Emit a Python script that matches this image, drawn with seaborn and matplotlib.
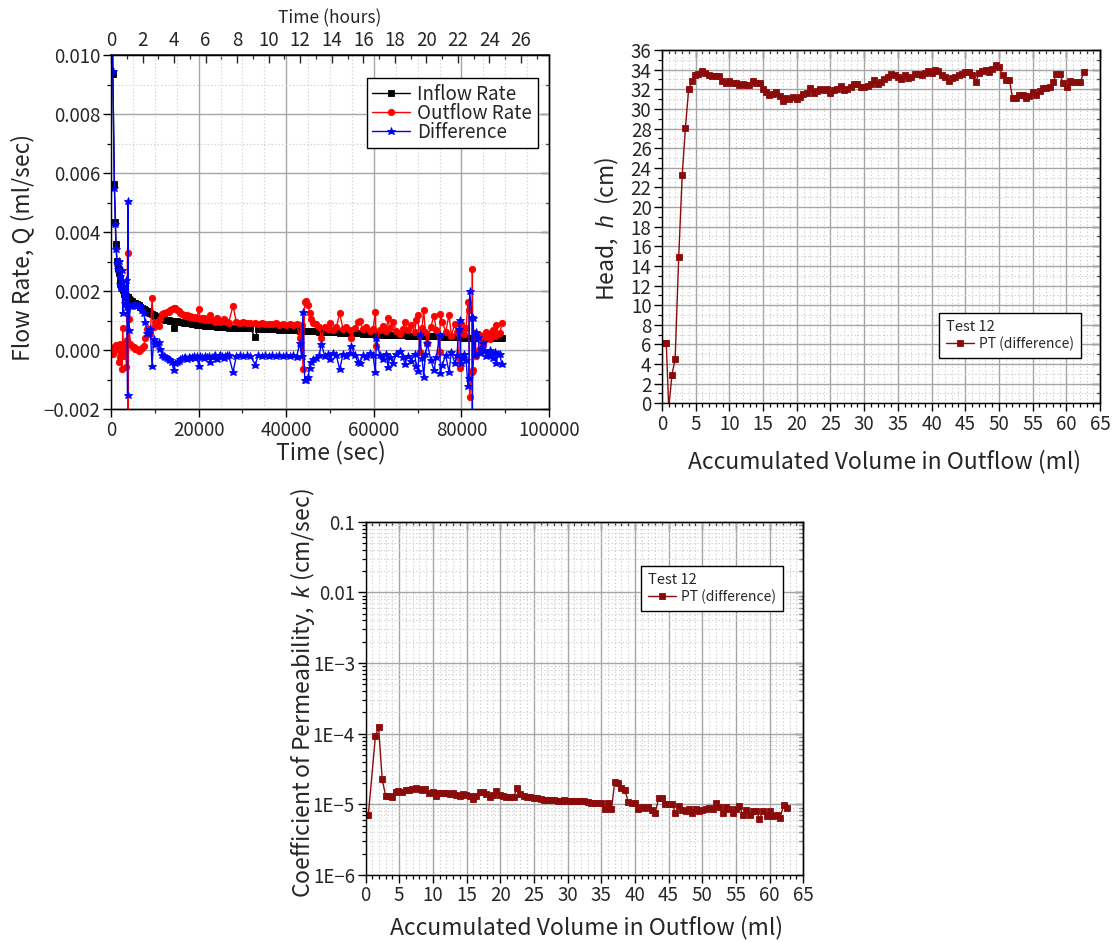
import matplotlib
matplotlib.use("Agg")
import numpy as np
import matplotlib.pyplot as plt
import matplotlib.ticker as mticker
import seaborn as sns

# ---------------- flow-rate record (time in s, rates in 1e-3 ml/sec) ----------------
TIME_S = [
    150, 420, 770, 1000, 1150, 1380, 1600, 1760, 1950, 2140,
    2330, 2520, 2670, 2900, 3050, 3280, 3500, 3660, 3780, 3830,
    4040, 4420, 4800, 5180, 5560, 5940, 6320, 6700, 7080, 7460,
    7850, 8230, 8610, 8990, 9370, 9750, 10130, 10510, 10890, 11270,
    11650, 12030, 12410, 12790, 13170, 13550, 13930, 14310, 14700, 15080,
    15460, 15840, 16220, 16600, 16980, 17360, 17740, 18120, 18500, 18880,
    19260, 19640, 20020, 20400, 20780, 21160, 21540, 21920, 22300, 22690,
    23070, 23450, 23830, 24210, 24590, 24970, 25350, 25730, 26110, 26490,
    26870, 27860, 28600, 29400, 30200, 31000, 31800, 32960, 33600, 34400,
    35200, 36000, 36800, 37600, 38400, 39200, 40000, 40800, 41600, 42400,
    43080, 43500, 43840, 44220, 44600, 44980, 45370, 45750, 46130, 46890,
    47500, 48030, 48790, 49550, 49930, 50700, 51450, 52210, 52980, 53740,
    54500, 54880, 55640, 56400, 56780, 57540, 58300, 59060, 59820, 60360,
    60590, 61350, 62110, 62870, 63250, 63630, 64390, 65150, 65910, 66670,
    67050, 67810, 68570, 69340, 69720, 70100, 70480, 71010, 71390, 71770,
    72230, 72990, 73750, 74280, 75040, 75200, 75650, 76410, 77170, 77710,
    78470, 79000, 79380, 79610, 79840, 80140, 80600, 81060, 81510, 81670,
    81890, 82430, 82500, 82650, 83040, 83420, 83800, 84180, 84560, 84940,
    85320, 85700, 86080, 86460, 86840, 87220, 87600, 87980, 88360, 88740,
    89270,
]
INFLOW = [
    14.2, 9.36, 5.63, 4.36, 3.59, 3.03, 2.80, 2.63, 2.45, 2.29,
    2.17, 2.10, 2.05, 1.95, 1.90, 1.86, 1.83, 1.81, 1.80, 1.79,
    1.75, 1.70, 1.66, 1.62, 1.59, 1.56, 1.52, 1.48, 1.45, 1.41,
    1.38, 1.33, 1.29, 1.26, 1.23, 1.20, 1.16, 1.13, 1.10, 1.08,
    1.06, 1.05, 1.04, 1.03, 1.02, 1.01, 1.00, 0.77, 0.99, 0.98,
    0.97, 0.96, 0.95, 0.94, 0.93, 0.92, 0.91, 0.91, 0.90, 0.89,
    0.88, 0.87, 0.86, 0.86, 0.85, 0.85, 0.84, 0.84, 0.83, 0.83,
    0.82, 0.81, 0.81, 0.80, 0.80, 0.79, 0.79, 0.78, 0.78, 0.78,
    0.77, 0.77, 0.76, 0.76, 0.75, 0.75, 0.74, 0.44, 0.73, 0.73,
    0.72, 0.72, 0.71, 0.71, 0.70, 0.70, 0.69, 0.69, 0.68, 0.68,
    0.67, 0.67, 0.66, 0.66, 0.66, 0.65, 0.65, 0.65, 0.64, 0.64,
    0.63, 0.63, 0.62, 0.62, 0.62, 0.61, 0.61, 0.60, 0.60, 0.59,
    0.59, 0.58, 0.58, 0.57, 0.57, 0.56, 0.56, 0.55, 0.55, 0.54,
    0.54, 0.54, 0.53, 0.53, 0.53, 0.52, 0.52, 0.52, 0.51, 0.51,
    0.51, 0.50, 0.50, 0.50, 0.49, 0.49, 0.49, 0.49, 0.48, 0.48,
    0.48, 0.48, 0.47, 0.47, 0.47, 0.47, 0.46, 0.46, 0.46, 0.45,
    0.45, 0.45, 0.44, 0.44, 0.44, 0.44, 0.43, 0.43, 0.43, 0.43,
    0.42, 0.42, 0.42, 0.42, 0.42, 0.42, 0.42, 0.42, 0.42, 0.42,
    0.42, 0.42, 0.42, 0.42, 0.43, 0.43, 0.43, 0.43, 0.43, 0.43,
    0.43,
]
OUTFLOW = [
    0.08, -0.11, 0.12, 0.09, 0.17, 0.06, 0.05, -0.40, 0.20, -0.23,
    0.05, -0.62, 0.77, -0.05, -0.20, 0.24, -0.55, 0.35, 3.30, -3.27,
    1.05, 0.20, 0.15, 0.10, 0.05, 0.03, -0.02, 0.00, 0.08, 0.15,
    0.43, 0.73, 0.71, 0.55, 1.76, 0.80, 0.95, 0.90, 0.82, 1.05,
    1.22, 1.25, 1.28, 1.30, 1.31, 1.35, 1.40, 1.45, 1.42, 1.38,
    1.33, 1.25, 1.22, 1.19, 1.16, 1.20, 1.14, 1.17, 1.12, 1.10,
    1.13, 1.08, 1.39, 1.05, 1.09, 1.10, 1.03, 1.06, 1.02, 1.21,
    1.04, 1.00, 0.97, 1.10, 1.01, 0.96, 1.00, 1.05, 0.98, 0.95,
    0.94, 1.51, 0.97, 0.93, 0.95, 0.92, 0.93, 0.93, 0.90, 0.92,
    0.89, 0.90, 0.88, 0.91, 0.87, 0.88, 0.86, 0.88, 0.85, 0.90,
    0.41, 0.86, -0.64, 1.65, 1.68, 1.55, 1.25, 1.05, 0.92, 0.90,
    0.80, 0.43, 0.80, 0.73, 0.92, 0.70, 0.78, 1.25, 0.72, 0.78,
    0.68, 0.43, 0.74, 0.97, 1.00, 0.71, 0.80, 0.65, 0.72, 1.29,
    0.13, 0.70, 0.82, 0.66, 1.08, 0.74, 0.95, 0.66, 0.55, 0.73,
    0.97, 0.68, 0.85, 0.62, 1.03, 1.20, -0.06, 0.74, 1.37, 0.62,
    0.24, 0.80, 1.15, 0.70, -0.05, 1.23, 0.95, 0.62, 1.20, 0.50,
    0.88, 0.62, -0.27, -0.59, 0.88, 0.70, 0.55, 0.75, 1.65, 1.38,
    -1.58, -0.72, 2.76, -0.67, 0.57, -0.21, -0.04, 0.52, 0.35, 0.18,
    0.45, 0.63, 0.52, 0.40, 0.60, 0.69, 0.50, 0.86, 0.55, 0.57,
    0.91,
]
DIFFERENCE = [
    14.12, 9.47, 5.51, 4.27, 3.42, 2.97, 2.75, 3.03, 2.25, 2.52,
    2.12, 2.72, 1.28, 2.00, 2.10, 1.62, 2.38, 1.46, -1.50, 5.06,
    0.70, 1.50, 1.51, 1.52, 1.54, 1.53, 1.54, 1.48, 1.37, 1.26,
    0.95, 0.60, 0.58, 0.71, -0.53, 0.40, 0.21, 0.23, 0.28, 0.03,
    -0.16, -0.20, -0.24, -0.27, -0.29, -0.34, -0.40, -0.68, -0.43, -0.40,
    -0.36, -0.29, -0.27, -0.25, -0.23, -0.28, -0.23, -0.26, -0.22, -0.21,
    -0.25, -0.21, -0.53, -0.19, -0.24, -0.25, -0.19, -0.22, -0.19, -0.38,
    -0.22, -0.19, -0.16, -0.30, -0.21, -0.17, -0.21, -0.27, -0.20, -0.17,
    -0.17, -0.74, -0.21, -0.17, -0.20, -0.17, -0.19, -0.49, -0.17, -0.19,
    -0.17, -0.18, -0.17, -0.20, -0.17, -0.18, -0.17, -0.19, -0.17, -0.22,
    0.26, -0.19, 1.30, -0.99, -1.02, -0.90, -0.60, -0.40, -0.28, -0.26,
    -0.17, 0.20, -0.18, -0.11, -0.30, -0.09, -0.17, -0.65, -0.12, -0.19,
    -0.09, 0.15, -0.16, -0.40, -0.43, -0.15, -0.24, -0.10, -0.17, -0.75,
    0.41, -0.16, -0.29, -0.13, -0.55, -0.22, -0.43, -0.14, -0.04, -0.22,
    -0.46, -0.18, -0.35, -0.12, -0.54, -0.71, 0.55, -0.25, -0.89, -0.14,
    0.24, -0.32, -0.68, -0.23, 0.52, -0.76, -0.49, -0.16, -0.74, -0.05,
    -0.43, -0.17, 0.71, 1.03, -0.44, -0.26, -0.12, -0.32, -1.22, -0.95,
    2.00, 1.14, -2.34, 1.09, -0.15, 0.63, 0.46, -0.10, 0.07, 0.24,
    -0.03, -0.21, -0.10, 0.02, -0.17, -0.26, -0.07, -0.43, -0.12, -0.14,
    -0.48,
]

# ---------------- head vs accumulated outflow volume ----------------
VOL_HEAD = [
    0.42, 0.63, 1.0, 1.48, 1.95, 2.48, 3.0, 3.48, 3.95, 4.48,
    4.9, 5.38, 5.96, 6.43, 6.96, 7.49, 8.01, 8.43, 8.91, 9.44,
    9.96, 10.49, 10.96, 11.49, 11.97, 12.49, 12.97, 13.44, 13.97, 14.5,
    14.97, 15.5, 15.92, 16.45, 16.97, 17.45, 17.92, 18.45, 18.92, 19.45,
    19.98, 20.45, 20.93, 21.45, 21.98, 22.51, 22.98, 23.51, 23.99, 24.46,
    24.99, 25.46, 25.99, 26.52, 26.99, 27.52, 27.99, 28.52, 28.99, 29.52,
    29.99, 30.52, 31.0, 31.52, 32.0, 32.52, 33.0, 33.53, 34.0, 34.53,
    35.0, 35.53, 36.0, 36.53, 37.0, 37.53, 38.0, 38.53, 39.0, 39.54,
    40.0, 40.54, 41.01, 41.54, 42.01, 42.54, 43.02, 43.54, 44.02, 44.54,
    45.02, 45.55, 46.02, 46.55, 47.02, 47.55, 48.02, 48.5, 49.03, 49.5,
    50.03, 50.55, 51.03, 51.55, 52.03, 52.5, 53.03, 53.51, 54.03, 54.51,
    55.03, 55.51, 56.04, 56.51, 57.04, 57.51, 58.04, 58.51, 59.04, 59.57,
    60.04, 60.57, 61.04, 61.57, 62.1, 62.57,
]
HEAD_CM = [
    6.19, 6.19, -0.5, 2.92, 4.52, 14.89, 23.28, 28.08, 31.98, 32.87,
    33.41, 33.51, 33.85, 33.68, 33.45, 33.34, 33.34, 33.38, 32.83, 32.60,
    32.83, 32.60, 32.60, 32.43, 32.53, 32.43, 32.43, 32.83, 32.66, 32.66,
    31.98, 31.75, 31.41, 31.51, 31.71, 31.30, 30.76, 31.13, 31.03, 31.20,
    31.00, 31.24, 31.54, 31.57, 32.09, 31.64, 31.85, 32.02, 31.88, 31.98,
    31.64, 31.92, 31.98, 32.33, 31.88, 32.05, 32.26, 32.49, 32.53, 32.23,
    32.26, 32.33, 32.49, 32.94, 32.56, 32.77, 33.00, 33.28, 33.51, 33.45,
    33.24, 33.04, 33.41, 33.17, 33.24, 33.51, 33.51, 33.45, 33.62, 33.89,
    33.65, 33.96, 33.82, 33.41, 33.21, 32.83, 33.17, 33.21, 33.41, 33.51,
    33.75, 33.72, 33.48, 32.70, 33.62, 33.89, 33.92, 33.72, 34.09, 34.50,
    34.23, 33.41, 32.94, 32.97, 31.10, 31.13, 31.37, 31.37, 31.13, 31.30,
    31.75, 31.44, 31.82, 32.09, 32.09, 32.26, 32.73, 33.51, 33.51, 32.60,
    32.26, 32.83, 32.77, 32.77, 32.77, 33.72,
]

# ---------------- permeability vs accumulated outflow volume (k in 1e-5 cm/sec) ----------------
VOL_PERM = [
    0.42, 1.48, 1.95, 2.48, 3.0, 3.48, 3.95, 4.48, 4.9, 5.38,
    5.96, 6.43, 6.96, 7.49, 8.01, 8.43, 8.91, 9.44, 9.96, 10.49,
    10.96, 11.49, 11.97, 12.49, 12.97, 13.44, 13.97, 14.5, 14.97, 15.5,
    15.92, 16.45, 16.97, 17.45, 17.92, 18.45, 18.92, 19.45, 19.98, 20.45,
    20.93, 21.45, 21.98, 22.51, 22.98, 23.51, 23.99, 24.46, 24.99, 25.46,
    25.99, 26.52, 26.99, 27.52, 27.99, 28.52, 28.99, 29.52, 29.99, 30.52,
    31.0, 31.52, 32.0, 32.52, 33.0, 33.53, 34.0, 34.53, 35.0, 35.53,
    36.0, 36.53, 37.0, 37.53, 38.0, 38.53, 39.0, 39.54, 40.0, 40.54,
    41.01, 41.54, 42.01, 42.54, 43.02, 43.54, 44.02, 44.54, 45.02, 45.55,
    46.02, 46.55, 47.02, 47.55, 48.02, 48.5, 49.03, 49.5, 50.03, 50.55,
    51.03, 51.55, 52.03, 52.5, 53.03, 53.51, 54.03, 54.51, 55.03, 55.51,
    56.04, 56.51, 57.04, 57.51, 58.04, 58.51, 59.04, 59.57, 60.04, 60.57,
    61.04, 61.57, 62.1, 62.57,
]
PERM_K = [
    0.71, 9.3, 12.3, 2.26, 1.31, 1.31, 1.28, 1.51, 1.55, 1.51,
    1.60, 1.60, 1.67, 1.72, 1.67, 1.60, 1.63, 1.46, 1.51, 1.31,
    1.46, 1.43, 1.46, 1.40, 1.43, 1.37, 1.31, 1.40, 1.34, 1.31,
    1.19, 1.31, 1.51, 1.51, 1.40, 1.26, 1.37, 1.55, 1.37, 1.31,
    1.28, 1.28, 1.28, 1.68, 1.40, 1.31, 1.26, 1.26, 1.22, 1.22,
    1.19, 1.15, 1.17, 1.15, 1.15, 1.13, 1.13, 1.15, 1.13, 1.13,
    1.10, 1.10, 1.12, 1.13, 1.07, 1.05, 1.06, 1.05, 1.05, 0.85,
    1.03, 0.85, 2.05, 1.98, 1.68, 1.60, 1.09, 1.05, 1.03, 0.85,
    0.93, 0.90, 0.91, 0.83, 0.76, 1.22, 1.24, 1.01, 1.01, 1.01,
    0.76, 0.95, 0.83, 0.81, 0.85, 0.76, 0.85, 0.81, 0.83, 0.85,
    0.88, 0.85, 1.05, 0.91, 0.76, 0.91, 0.85, 0.76, 0.85, 0.95,
    0.71, 0.83, 0.71, 0.81, 0.81, 0.63, 0.81, 0.69, 0.80, 0.68,
    0.70, 0.65, 0.97, 0.90,
]
HOUR_TICKS = [0, 2, 4, 6, 8, 10, 12, 14, 16, 18, 20, 22, 24, 26]

# ---------------- style ----------------
sns.set_theme(style="white")
plt.rcParams["font.family"] = ["Noto Sans CJK JP", "DejaVu Sans"]
plt.rcParams["mathtext.fontset"] = "custom"
plt.rcParams["mathtext.it"] = "Liberation Sans:italic"
plt.rcParams["mathtext.rm"] = "Noto Sans CJK JP"
plt.rcParams["axes.unicode_minus"] = True

W, H = 1116, 942
fig = plt.figure(figsize=(W / 100, H / 100), dpi=100)


def px_axes(x0, y0, x1, y1):
    return fig.add_axes([x0 / W, 1 - y1 / H, (x1 - x0) / W, (y1 - y0) / H])


MAJOR_GRID = dict(color="#a6a6a6", linewidth=1.0, linestyle="-")
MINOR_GRID = dict(color="#cfcfcf", linewidth=0.8, linestyle=(0, (1.2, 2.0)))
TICK_FS = 13.5
LABEL_FS = 16.5
MINUS = "\u2212"


def frame(ax):
    ax.set_facecolor("white")
    for s in ax.spines.values():
        s.set_visible(True)
        s.set_color("black")
        s.set_linewidth(1.0)
    ax.set_axisbelow(True)
    ax.grid(which="major", **MAJOR_GRID)
    ax.grid(which="minor", **MINOR_GRID)
    ax.tick_params(which="major", direction="out", length=5.5, width=1.0,
                   color="black", labelsize=TICK_FS, pad=2,
                   bottom=True, left=True, top=False, right=False)
    ax.tick_params(which="minor", direction="out", length=3, width=0.9,
                   color="black", bottom=True, left=True, top=False, right=False)


def mirror(ax, top=True, right=True):
    # inward ticks on the opposite spines
    if top:
        sx = ax.secondary_xaxis("top")
        sx.xaxis.set_major_locator(ax.xaxis.get_major_locator())
        sx.xaxis.set_minor_locator(ax.xaxis.get_minor_locator())
        sx.tick_params(which="major", direction="in", length=5.5, width=1.0, labeltop=False)
        sx.tick_params(which="minor", direction="in", length=3, width=0.9)
        sx.spines["top"].set_linewidth(1.0)
    if right:
        sy = ax.secondary_yaxis("right")
        sy.yaxis.set_major_locator(ax.yaxis.get_major_locator())
        sy.yaxis.set_minor_locator(ax.yaxis.get_minor_locator())
        sy.tick_params(which="major", direction="in", length=5.5, width=1.0, labelright=False)
        sy.tick_params(which="minor", direction="in", length=3, width=0.9)
        sy.spines["right"].set_linewidth(1.0)


def legend_box(ax, x0, ytop, fs, **kw):
    leg = ax.legend(loc="upper left", bbox_to_anchor=(x0, ytop), borderaxespad=0,
                    frameon=True, fancybox=False, shadow=False, framealpha=1,
                    edgecolor="black", fontsize=fs, handlelength=2.0,
                    handletextpad=0.4, **kw)
    leg.get_frame().set_linewidth(1.0)
    return leg


def line(ax, x, y, color, marker, ms, label, mec=None):
    sns.lineplot(x=x, y=y, ax=ax, color=color, marker=marker, markersize=ms,
                 markeredgecolor=mec or color, markeredgewidth=0.6, linewidth=1.0,
                 label=label, estimator=None, sort=False, legend=False)


# ---------------- top-left: flow rates vs time ----------------
ax1 = px_axes(111, 55.3, 549, 409.3)
frame(ax1)
t = np.asarray(TIME_S, float)
line(ax1, t, np.asarray(INFLOW) * 1e-3, "black", "s", 4.0, "Inflow Rate")
line(ax1, t, np.asarray(OUTFLOW) * 1e-3, "#ff0000", "o", 4.6, "Outflow Rate")
line(ax1, t, np.asarray(DIFFERENCE) * 1e-3, "#0000ff", "*", 6.2, "Difference")
ax1.set_xlim(0, 100000)
ax1.set_ylim(-0.002, 0.010)
ax1.xaxis.set_major_locator(mticker.MultipleLocator(20000))
# dotted grid every 5000 s, tick marks only every 10000 s
ax1.xaxis.set_minor_locator(mticker.MultipleLocator(5000))
ax1.tick_params(axis="x", which="minor", length=0)
ax1.yaxis.set_major_locator(mticker.MultipleLocator(0.002))
ax1.yaxis.set_minor_locator(mticker.MultipleLocator(0.001))
ax1.xaxis.set_major_formatter(mticker.FuncFormatter(lambda v, p: f"{v:.0f}"))
ax1.yaxis.set_major_formatter(mticker.FuncFormatter(
    lambda v, p: (f"{v:.3f}").replace("-", MINUS) if abs(v) > 1e-12 else "0.000"))
ax1.set_xlabel("Time (sec)", fontsize=LABEL_FS)
ax1.set_ylabel("Flow Rate, Q (ml/sec)", fontsize=LABEL_FS)
ax1.xaxis.set_label_coords(0.502, -0.1235)
ax1.xaxis.label.set_va("center")
ax1.yaxis.set_label_coords(-0.203, 0.456)
ax1.yaxis.label.set_va("center")

bottom_minor = ax1.secondary_xaxis("bottom")
bottom_minor.xaxis.set_major_locator(mticker.NullLocator())
bottom_minor.xaxis.set_minor_locator(mticker.FixedLocator([10000, 30000, 50000, 70000, 90000]))
bottom_minor.tick_params(which="minor", direction="out", length=3, width=0.9)
bottom_minor.spines["bottom"].set_linewidth(1.0)

hours = ax1.secondary_xaxis("top", functions=(lambda s: s / 3600.0, lambda h: h * 3600.0))
hours.xaxis.set_major_locator(mticker.FixedLocator(HOUR_TICKS))
hours.xaxis.set_minor_locator(mticker.FixedLocator([h + 1 for h in HOUR_TICKS]))
hours.tick_params(which="major", direction="in", length=5.5, width=1.0, labelsize=TICK_FS, pad=3)
hours.tick_params(which="minor", direction="in", length=3, width=0.9)
hours.set_xlabel("Time (hours)", fontsize=12.5)
hours.xaxis.set_label_coords(0.5, 1.105, transform=ax1.transAxes)
hours.xaxis.label.set_va("center")
mirror(ax1, top=False, right=True)
legend_box(ax1, 0.584, 0.936, TICK_FS, borderpad=0.3, labelspacing=-0.1)

# ---------------- top-right: head vs accumulated volume ----------------
DARK_RED = "#8b0a0a"
ax2 = px_axes(662, 50, 1100, 403.3)
frame(ax2)
line(ax2, VOL_HEAD, HEAD_CM, DARK_RED, "s", 4.0, "PT (difference)")
ax2.set_xlim(0, 65)
ax2.set_ylim(0, 36)
ax2.xaxis.set_major_locator(mticker.MultipleLocator(5))
ax2.xaxis.set_minor_locator(mticker.MultipleLocator(1))
ax2.yaxis.set_major_locator(mticker.MultipleLocator(2))
ax2.yaxis.set_minor_locator(mticker.MultipleLocator(1))
ax2.set_xlabel("Accumulated Volume in Outflow (ml)", fontsize=LABEL_FS)
ax2.set_ylabel("Head,  $h$  (cm)", fontsize=LABEL_FS)
ax2.xaxis.set_label_coords(0.509, -0.166)
ax2.xaxis.label.set_va("center")
ax2.yaxis.set_label_coords(-0.126, 0.495)
ax2.yaxis.label.set_va("center")
mirror(ax2)
legend_box(ax2, 0.632, 0.256, 10, title="Test 12", title_fontsize=10.5,
           alignment="left", borderpad=0.5, labelspacing=0.2)

# ---------------- bottom: permeability vs accumulated volume ----------------
ax3 = px_axes(365.5, 521.7, 803.2, 875)
frame(ax3)
line(ax3, VOL_PERM, np.asarray(PERM_K) * 1e-5, DARK_RED, "s", 4.0, "PT (difference)")
ax3.set_yscale("log")
ax3.set_xlim(0, 65)
ax3.set_ylim(1e-6, 0.1)
ax3.xaxis.set_major_locator(mticker.MultipleLocator(5))
ax3.xaxis.set_minor_locator(mticker.MultipleLocator(1))
ax3.yaxis.set_major_locator(mticker.LogLocator(base=10, numticks=10))
ax3.yaxis.set_minor_locator(mticker.LogLocator(base=10, subs=np.arange(2, 10), numticks=20))
ax3.yaxis.set_minor_formatter(mticker.NullFormatter())


def log_label(v, p):
    e = int(round(np.log10(v)))
    if e >= -2:
        return f"{v:g}"
    return f"1E{MINUS}{-e}"


ax3.yaxis.set_major_formatter(mticker.FuncFormatter(log_label))
ax3.set_xlabel("Accumulated Volume in Outflow (ml)", fontsize=LABEL_FS)
ax3.set_ylabel("Coefficient of Permeability,  $k$ (cm/sec)", fontsize=LABEL_FS)
ax3.xaxis.set_label_coords(0.506, -0.15)
ax3.xaxis.label.set_va("center")
ax3.yaxis.set_label_coords(-0.145, 0.515)
ax3.yaxis.label.set_va("center")
mirror(ax3)
legend_box(ax3, 0.629, 0.875, 10, title="Test 12", title_fontsize=10.5,
           alignment="left", borderpad=0.5, labelspacing=0.2)

fig.savefig("out.png", dpi=100, facecolor="white")
